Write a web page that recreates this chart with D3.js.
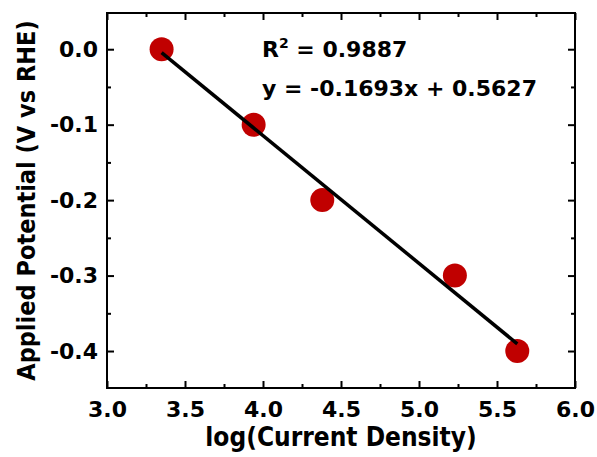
<!DOCTYPE html>
<html>
<head>
<meta charset="utf-8">
<script src="https://cdn.jsdelivr.net/npm/d3@7"></script>
<style>
  body { margin: 0; background: #fff; }
  text { font-family: "DejaVu Sans", sans-serif; font-weight: bold; fill: #000; }
  .title { font-family: "DejaVu Sans Condensed", "DejaVu Sans", sans-serif; font-stretch: condensed; }
</style>
</head>
<body>
<div id="chart-area"></div>
<script>
// data
var logCurrent = [3.35, 3.94, 4.38, 5.23, 5.63];
var potential = [0.0, -0.1, -0.2, -0.3, -0.4];
var fitSlope = -0.1693;
var fitIntercept = 0.5627;
var fitRange = [3.35, 5.63];
var xTicks = [3.0, 3.5, 4.0, 4.5, 5.0, 5.5, 6.0];
var yTicks = [0.0, -0.1, -0.2, -0.3, -0.4];
var rSquared = "0.9887";

var margin = { top: 13, right: 22, bottom: 69, left: 107 };
var width = 597 - margin.left - margin.right;
var height = 457 - margin.top - margin.bottom;

var svg = d3.select("#chart-area").append("svg")
    .attr("width", 597)
    .attr("height", 457)
    .append("g")
    .attr("transform", "translate(" + margin.left + "," + margin.top + ")");

var x = d3.scaleLinear().domain([3.0, 6.0]).range([0, width]);
var y = d3.scaleLinear().domain([-0.449, 0.048]).range([height, 0]);

// minor ticks halfway between majors
var xMinor = d3.range(3.25, 6.0, 0.5);
var yMinor = [-0.35, -0.25, -0.15, -0.05];

// plain hyphen instead of d3's unicode minus
var fmt = function (d) { return d.toFixed(1); };

function styleAxis(g) {
    g.select(".domain").remove();
    g.selectAll("line").attr("stroke", "#000").attr("stroke-width", 2);
    g.selectAll("text").attr("font-size", 22).attr("fill", "#000")
        .style("font-family", "DejaVu Sans").style("font-weight", "bold");
}

// bottom axis with labels, ticks pointing in
svg.append("g")
    .attr("transform", "translate(0," + height + ")")
    .call(d3.axisBottom(x).tickValues(xTicks).tickFormat(fmt).tickSizeInner(-7).tickSizeOuter(0).tickPadding(13))
    .call(styleAxis);
svg.append("g")
    .attr("transform", "translate(0," + height + ")")
    .call(d3.axisBottom(x).tickValues(xMinor).tickFormat("").tickSizeInner(-4).tickSizeOuter(0))
    .call(styleAxis);

// top mirror
svg.append("g")
    .call(d3.axisTop(x).tickValues(xTicks).tickFormat("").tickSizeInner(-7).tickSizeOuter(0))
    .call(styleAxis);
svg.append("g")
    .call(d3.axisTop(x).tickValues(xMinor).tickFormat("").tickSizeInner(-4).tickSizeOuter(0))
    .call(styleAxis);

// left axis
svg.append("g")
    .call(d3.axisLeft(y).tickValues(yTicks).tickFormat(fmt).tickSizeInner(-7).tickSizeOuter(0).tickPadding(9))
    .call(styleAxis);
svg.append("g")
    .call(d3.axisLeft(y).tickValues(yMinor).tickFormat("").tickSizeInner(-4).tickSizeOuter(0))
    .call(styleAxis);

// right mirror
svg.append("g")
    .attr("transform", "translate(" + width + ",0)")
    .call(d3.axisRight(y).tickValues(yTicks).tickFormat("").tickSizeInner(-7).tickSizeOuter(0))
    .call(styleAxis);
svg.append("g")
    .attr("transform", "translate(" + width + ",0)")
    .call(d3.axisRight(y).tickValues(yMinor).tickFormat("").tickSizeInner(-4).tickSizeOuter(0))
    .call(styleAxis);

// frame
svg.append("rect")
    .attr("width", width)
    .attr("height", height)
    .attr("fill", "none")
    .attr("stroke", "#000")
    .attr("stroke-width", 2);

// points
var points = logCurrent.map(function (d, i) { return { x: d, y: potential[i] }; });
svg.selectAll(".dot")
    .data(points)
    .enter().append("circle")
    .attr("class", "dot")
    .attr("cx", function (d) { return x(d.x); })
    .attr("cy", function (d) { return y(d.y); })
    .attr("r", 12)
    .attr("fill", "#c00000");

// linear fit
var fitPoints = fitRange.map(function (v) { return { x: v, y: fitSlope * v + fitIntercept }; });
svg.append("path")
    .datum(fitPoints)
    .attr("fill", "none")
    .attr("stroke", "#000")
    .attr("stroke-width", 3.5)
    .attr("d", d3.line()
        .x(function (d) { return x(d.x); })
        .y(function (d) { return y(d.y); }));

// annotations
var r2 = svg.append("text")
    .attr("x", 262 - margin.left)
    .attr("y", 57 - margin.top)
    .attr("font-size", 22);
r2.append("tspan").text("R");
r2.append("tspan").attr("font-size", 14).attr("dy", -9).text("2");
r2.append("tspan").attr("dy", 9).text(" = " + rSquared);

svg.append("text")
    .attr("x", 262 - margin.left)
    .attr("y", 96 - margin.top)
    .attr("font-size", 22)
    .text("y = " + fitSlope + "x + " + fitIntercept);

// axis titles
svg.append("text")
    .attr("class", "title")
    .attr("x", width / 2)
    .attr("y", 446 - margin.top)
    .attr("text-anchor", "middle")
    .attr("font-size", 26)
    .text("log(Current Density)");

svg.append("text")
    .attr("class", "title")
    .attr("transform", "rotate(-90)")
    .attr("x", -height / 2)
    .attr("y", 35 - margin.left)
    .attr("text-anchor", "middle")
    .attr("font-size", 25)
    .text("Applied Potential (V vs RHE)");
</script>
</body>
</html>
